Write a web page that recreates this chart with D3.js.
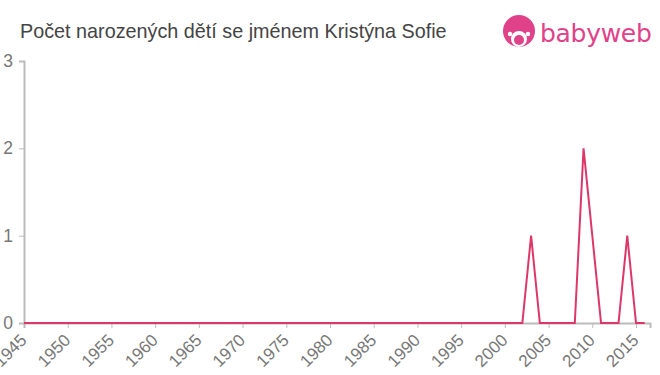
<!DOCTYPE html>
<html>
<head>
<meta charset="utf-8">
<script src="https://cdn.jsdelivr.net/npm/d3@7"></script>
<style>
  body { margin: 0; background: #fff; }
  svg { display: block; font-family: "Liberation Sans", Arial, sans-serif; }
  .axis path, .axis line { stroke: #bbb; }
  .axis text { fill: #777; font-size: 17px; }
  .axis.y text { font-size: 17.5px; }
</style>
</head>
<body>
<div id="holder"></div>
<script>
const title = "Počet narozených dětí se jménem Kristýna Sofie";
const years = d3.range(1945, 2017);
const counts = [
  0, 0, 0, 0, 0, 0, 0, 0, 0, 0,   // 1945-1954
  0, 0, 0, 0, 0, 0, 0, 0, 0, 0,   // 1955-1964
  0, 0, 0, 0, 0, 0, 0, 0, 0, 0,   // 1965-1974
  0, 0, 0, 0, 0, 0, 0, 0, 0, 0,   // 1975-1984
  0, 0, 0, 0, 0, 0, 0, 0, 0, 0,   // 1985-1994
  0, 0, 0, 0, 0, 0, 0, 0, 1, 0,   // 1995-2004
  0, 0, 0, 0, 2, 1, 0, 0, 0, 1,   // 2005-2014
  0, 0                            // 2015-2016
];
const xTicks = d3.range(1945, 2016, 5);
const yTicks = [0, 1, 2, 3];

const w = 660, h = 375;
const margin = {left: 24, right: 10, top: 61, bottom: 52};

const svg = d3.select('#holder')
    .append('svg')
    .attr('width', w)
    .attr('height', h);

const x = d3.scaleLinear()
    .domain([1945, 2016.6])
    .range([margin.left, w - margin.right]);

const y = d3.scaleLinear()
    .domain([0, 3])
    .range([h - margin.bottom, margin.top]);

svg.append('text')
    .attr('x', 20)
    .attr('y', 38)
    .attr('fill', '#444')
    .style('font-size', '19.8px')
    .text(title);

// logo
const logo = svg.append('g').attr('transform', 'translate(503,15)');
logo.append('circle').attr('cx', 16).attr('cy', 16).attr('r', 16).attr('fill', '#e0428a');
logo.append('circle').attr('cx', 16).attr('cy', 24).attr('r', 8).attr('fill', '#fff');
logo.append('circle').attr('cx', 16).attr('cy', 25).attr('r', 5).attr('fill', '#e0428a');
logo.append('circle').attr('cx', 7).attr('cy', 19).attr('r', 2.2).attr('fill', '#fff');
logo.append('circle').attr('cx', 25).attr('cy', 19).attr('r', 2.2).attr('fill', '#fff');
logo.append('text')
    .attr('x', 37)
    .attr('y', 27)
    .attr('fill', '#e0428a')
    .style('font-size', '25px')
    .style('font-family', '"DejaVu Sans", sans-serif')
    .style('letter-spacing', '-0.3px')
    .text('babyweb');

const xAxis = d3.axisBottom(x)
    .tickValues(xTicks)
    .tickFormat(d3.format('d'))
    .tickSizeOuter(0)
    .tickSize(5);

const yAxis = d3.axisLeft(y)
    .tickValues(yTicks)
    .tickFormat(d3.format('d'))
    .tickSizeOuter(0)
    .tickSize(5)
    .tickPadding(6);

svg.append('g')
    .attr('class', 'axis x')
    .attr('transform', `translate(0,${h - margin.bottom})`)
    .call(xAxis)
    .call(g => g.select('.domain').attr('stroke-width', 2))
    .selectAll('text')
    .attr('text-anchor', 'end')
    .attr('x', 0)
    .attr('y', 0)
    .attr('dy', '0.35em')
    .attr('transform', 'translate(-1,14) rotate(-45)');

svg.append('g')
    .attr('class', 'axis y')
    .attr('transform', `translate(${margin.left},0)`)
    .call(yAxis)
    .call(g => g.select('.domain').attr('stroke-width', 2));

const line = d3.line()
    .x((d, i) => x(years[i]))
    .y(d => y(d));

svg.append('path')
    .datum(counts)
    .attr('fill', 'none')
    .attr('stroke', '#dc3768')
    .attr('stroke-width', 2)
    .attr('d', line);
</script>
</body>
</html>
